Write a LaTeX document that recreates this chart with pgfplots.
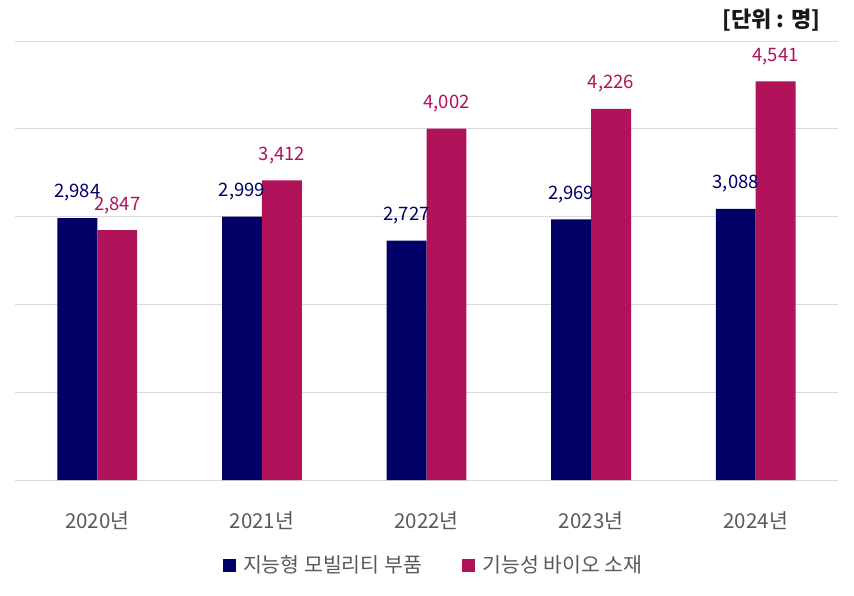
\documentclass[border=0pt]{standalone}
\usepackage{pgfplots}
\pgfplotsset{compat=1.18}
\usepackage{fontspec}
\setmainfont{Noto Sans CJK KR}
\definecolor{navyS}{HTML}{000066}
\definecolor{magS}{HTML}{B0135A}
\definecolor{txtG}{HTML}{595959}
\definecolor{gridG}{HTML}{D9D9D9}
\begin{document}
\begin{tikzpicture}
\path[use as bounding box] (0pt,0pt) rectangle (854pt,-595pt);
\begin{axis}[
  at={(15pt,-480pt)}, anchor=south west,
  scale only axis, width=823pt, height=439pt,
  ybar=0pt, bar width=0.2424,
  xmin=-0.5, xmax=4.5, ymin=0, ymax=5000,
  xtick=data,
  xticklabels={2020년,2021년,2022년,2023년,2024년},
  ytick={0,1000,2000,3000,4000,5000},
  yticklabels={},
  ymajorgrids, grid style={gridG, line width=0.8pt},
  axis line style={draw=none},
  tick style={draw=none},
  xticklabel style={font=\fontsize{20.5}{24}\selectfont, text=txtG, anchor=center, yshift=-36pt},
  /pgf/number format/.cd, 1000 sep={,}, assume math mode=true,
  /pgfplots/.cd,
  nodes near coords,
  every node near coord/.append style={font=\fontsize{18.5}{22}\selectfont, anchor=center, yshift=25pt},
  legend columns=2,
  legend style={at={(0.5085,-0.194)}, anchor=center, draw=none, fill=none,
    font=\fontsize{20.5}{24}\selectfont, text=txtG,
    /tikz/every even column/.append style={column sep=38pt}},
  legend image code/.code={\fill[#1] (0pt,-6.5pt) rectangle (13pt,6.5pt);},
]
\addplot[fill=navyS, draw=none, nodes near coords style={text=navyS}] coordinates {(0,2984) (1,2999) (2,2727) (3,2969) (4,3088)};
\addplot[fill=magS, draw=none, nodes near coords style={text=magS}] coordinates {(0,2847) (1,3412) (2,4002) (3,4226) (4,4541)};
\legend{\hspace{5.5pt}지능형 모빌리티 부품, \hspace{5.5pt}기능성 바이오 소재}
\end{axis}
\node[anchor=east, font=\fontsize{22}{26}\selectfont\bfseries, text=black!90] at (824pt,-20pt) {[단위 : 명]};
\end{tikzpicture}
\end{document}
